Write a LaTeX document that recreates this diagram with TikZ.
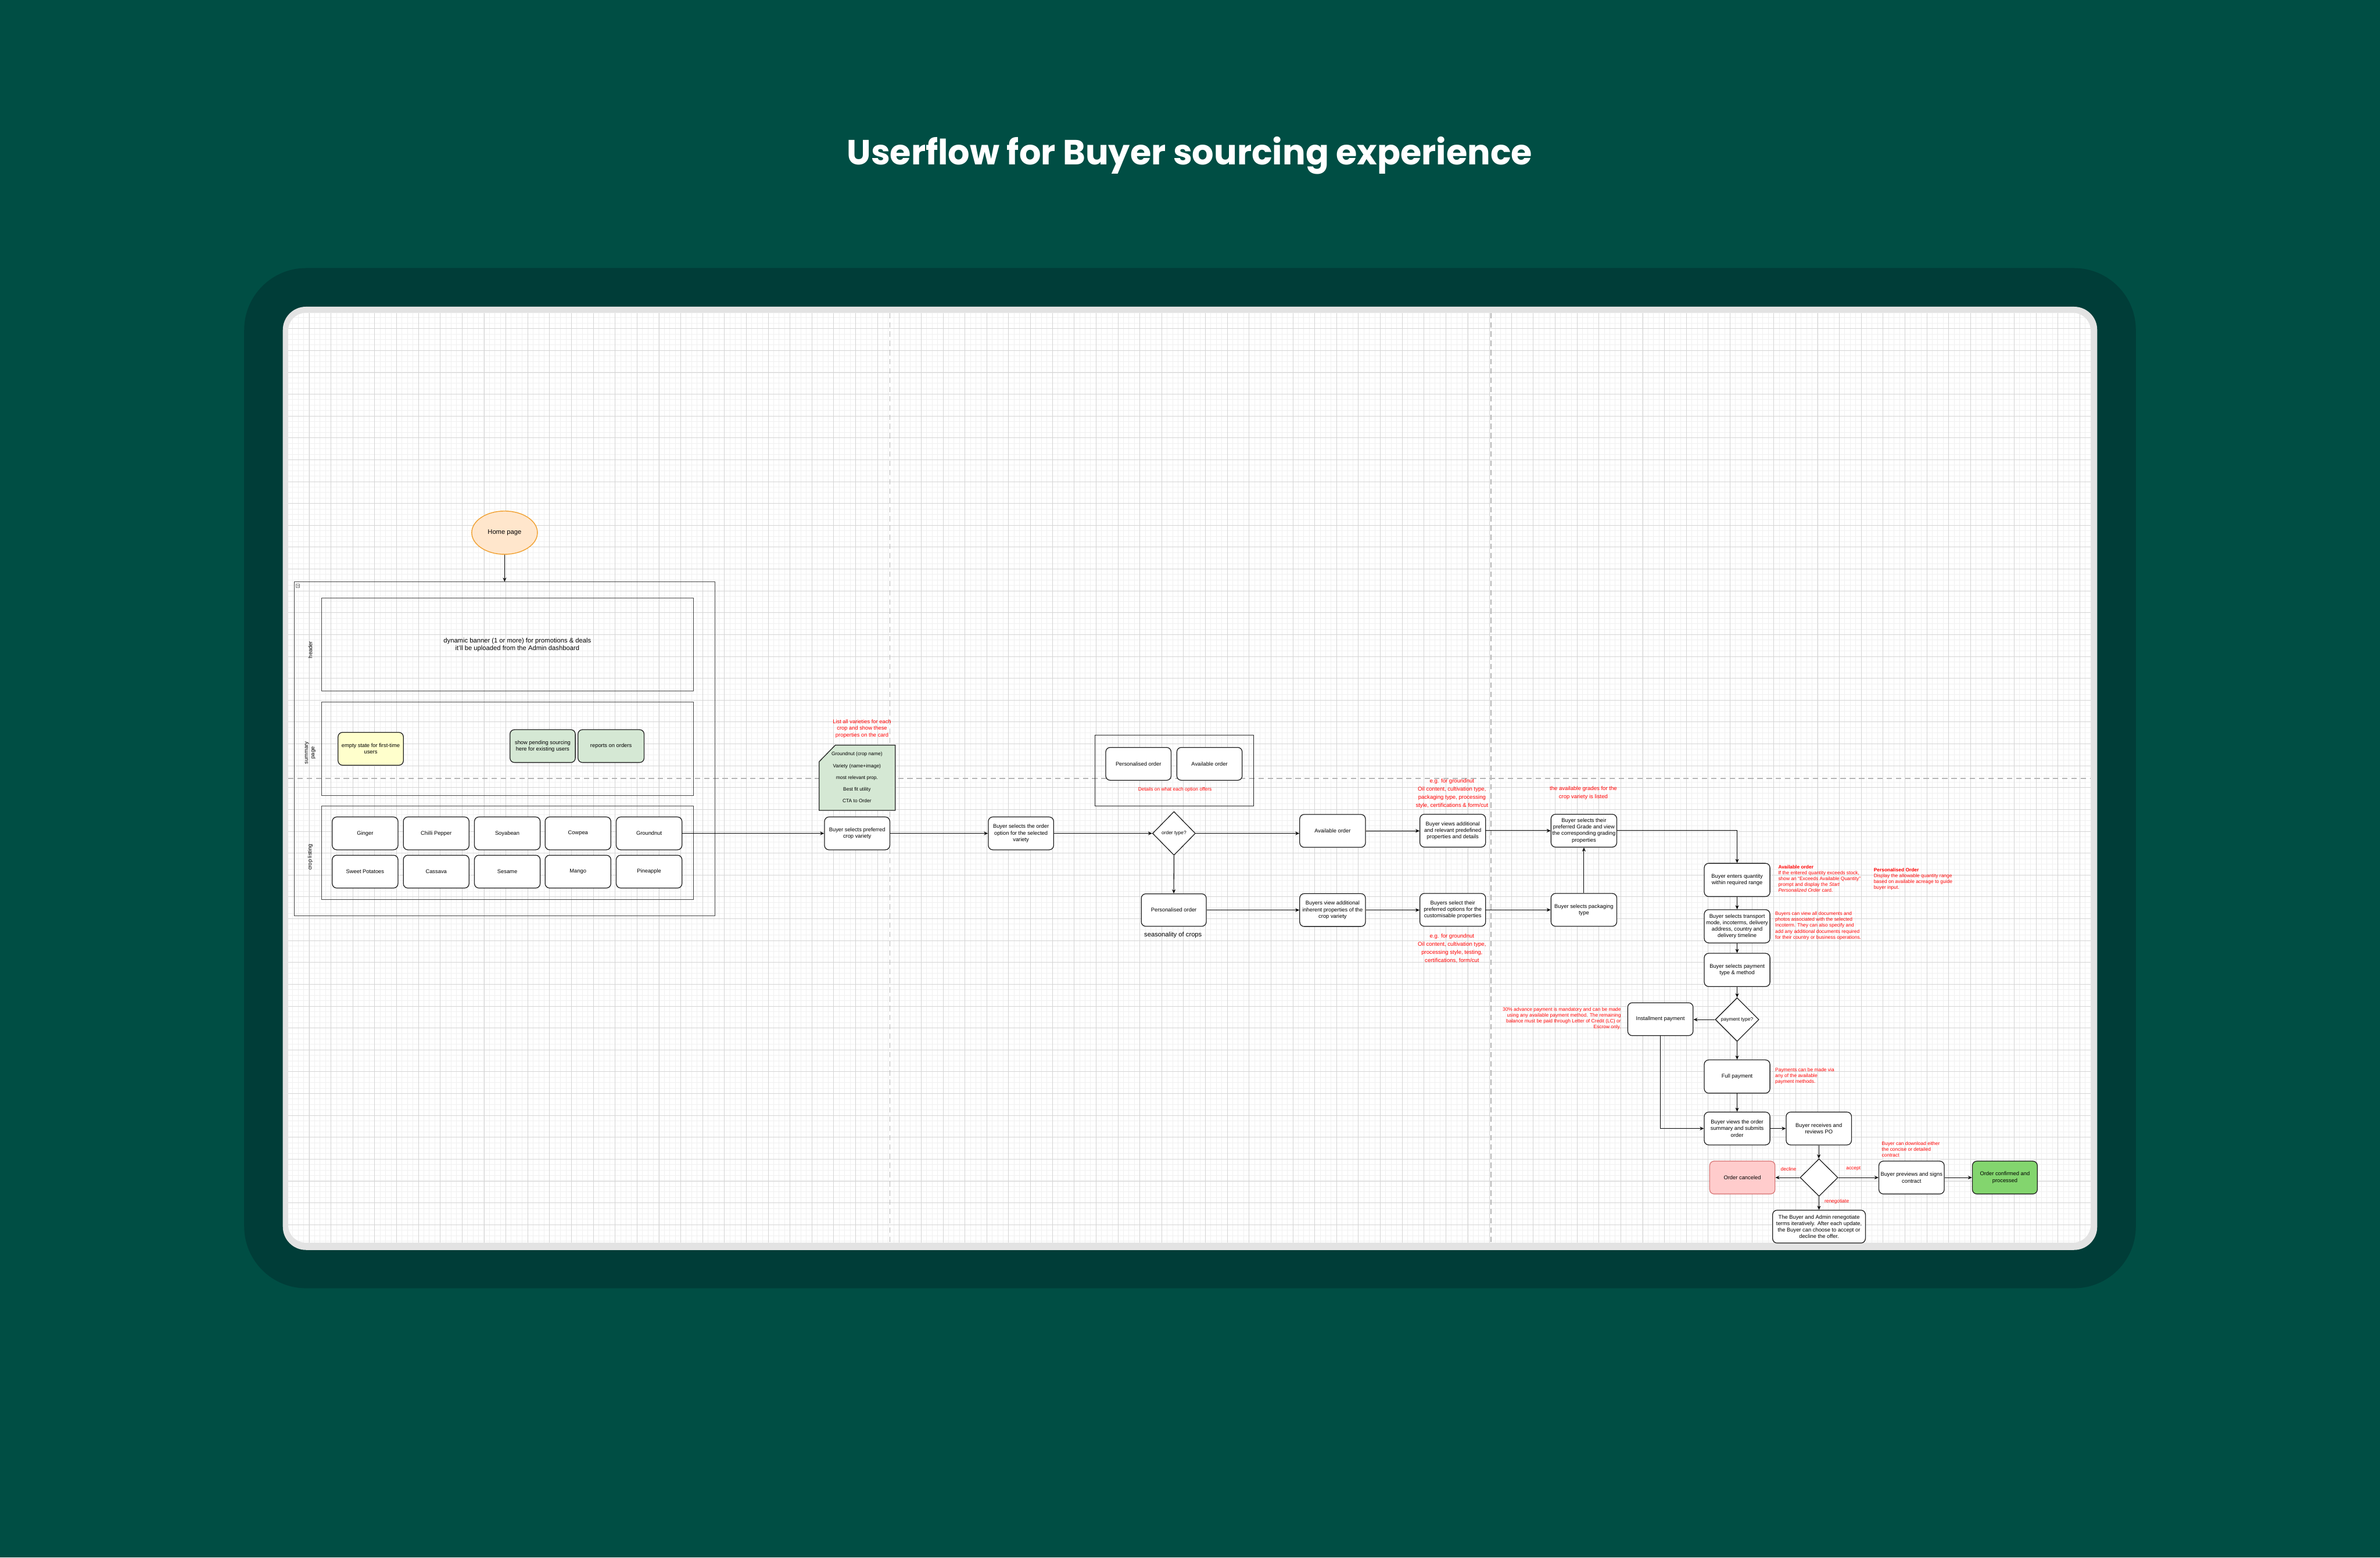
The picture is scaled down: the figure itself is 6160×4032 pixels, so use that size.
\documentclass[tikz,border=0pt]{standalone}
\usepackage{graphicx}
\usepackage{fontspec}
\setmainfont{Liberation Sans}
\newfontfamily\titlefont{Poppins}
\usetikzlibrary{shapes.geometric,arrows.meta,calc}

\definecolor{bgouter}{HTML}{004E44}
\definecolor{bgframe}{HTML}{003D38}
\definecolor{canvasedge}{HTML}{E3E3E3}
\definecolor{gridmajor}{HTML}{D4D4D4}
\definecolor{gridminor}{HTML}{F0F0F0}
\definecolor{dashgrey}{HTML}{B5B5B5}
\definecolor{peachfill}{HTML}{FFE6CC}
\definecolor{peachline}{HTML}{F0A030}
\definecolor{yellowfill}{HTML}{FFFFCC}
\definecolor{greenfill}{HTML}{D5E8D4}
\definecolor{pinkfill}{HTML}{FFCCCC}
\definecolor{pinkline}{HTML}{D87878}
\definecolor{brightgreen}{HTML}{83D56E}
\definecolor{annot}{HTML}{FF0000}
\definecolor{inkline}{HTML}{222222}

\newcommand{\fnode}{\fontsize{4.0}{4.8}\selectfont}
\newcommand{\fsm}{\fontsize{3.6}{4.3}\selectfont}
\newcommand{\fbig}{\fontsize{4.8}{5.6}\selectfont}
\newcommand{\fnote}{\fontsize{4.0}{5.0}\selectfont}
\newcommand{\fnotewide}{\fontsize{4.1}{6.0}\selectfont}
\newcommand{\fcard}{\fontsize{3.6}{8.6}\selectfont}

\begin{document}
\begin{tikzpicture}[x=0.01cm,y=-0.01cm,
  box/.style={draw=inkline, line width=0.55pt, fill=white, rounded corners=3.3pt,
    minimum width=1.7cm, minimum height=0.85cm, inner sep=0.5pt, align=center, font=\fnode},
  lanebox/.style={draw=inkline!85, line width=0.45pt, inner sep=0, minimum width=9.62cm, minimum height=2.41cm},
  decision/.style={diamond, draw=inkline, line width=0.55pt, fill=white, inner sep=0, aspect=1, align=center, font=\fsm},
  flow/.style={draw=black, line width=0.45pt, -{Stealth[length=3pt,width=2.6pt]}},
  note/.style={text=annot, inner sep=0, align=center, font=\fnote},
  notewide/.style={text=annot, inner sep=0, align=center, font=\fnotewide},
  notel/.style={text=annot, inner sep=0, align=left, font=\fsm},
  noter/.style={text=annot, inner sep=0, align=right, font=\fsm},
  lanelabel/.style={rotate=90, inner sep=0, align=center, font=\fnode},
  dashline/.style={draw=dashgrey, line width=0.55pt, dash pattern=on 4pt off 2.8pt}
]
% background and frame
\fill[bgouter] (0,0) rectangle (6160,4032);
\useasboundingbox (0,0) rectangle (6160,4032);
\fill[bgframe, rounded corners=1.6cm] (632,694) rectangle (5528,3335);
\fill[canvasedge, rounded corners=0.6cm] (732,794) rectangle (5428,3236);
\fill[white, rounded corners=0.46cm] (746,810) rectangle (5411,3217);

% title
\node[text=white, inner sep=0, anchor=base, font=\titlefont\bfseries\fontsize{25.7}{30}\selectfont] (title) at (3079,426) {\scalebox{0.98}[1]{Userflow for Buyer sourcing experience}};

% grid
\begin{scope}
  \clip[rounded corners=0.46cm] (746,810) rectangle (5411,3217);
  \foreach \i in {-4,...,327} \draw[gridminor, line width=0.4pt] ({800+\i*14.145},810) -- ({800+\i*14.145},3217);
  \foreach \j in {-3,...,168} \draw[gridminor, line width=0.4pt] (746,{850.7+\j*14.145}) -- (5411,{850.7+\j*14.145});
  \foreach \i in {-1,...,82} \draw[gridmajor, line width=0.35pt] ({800+\i*56.58},810) -- ({800+\i*56.58},3217);
  \foreach \j in {-1,...,42} \draw[gridmajor, line width=0.35pt] (746,{850.7+\j*56.58}) -- (5411,{850.7+\j*56.58});
  \draw[dashline] (746,2015) -- (5411,2015);
  \draw[dashline] (2303,810) -- (2303,3217);
  \draw[dashline] (3859,810) -- (3859,3217);
\end{scope}

% ---------------- home page and lanes ----------------
\node[ellipse, draw=peachline, line width=0.6pt, fill=peachfill, minimum width=1.7cm, minimum height=1.12cm, inner sep=0, font=\fbig] (home) at (1306,1379) {Home page};

\node[draw=inkline!85, line width=0.45pt, inner sep=0, minimum width=10.88cm, minimum height=8.63cm] (container) at (1306,1938.5) {};
\node[draw=gray, line width=0.3pt, fill=white, minimum size=0.09cm, inner sep=0] (collapse) at (771,1516) {};
\draw[gray!70!black, line width=0.3pt] ($(collapse.west)+(2,0)$) -- ($(collapse.east)+(-2,0)$);

\node[lanebox] (headerlane) at (1313,1669) {};
\node[lanebox] (summarylane) at (1313,1938.5) {};
\node[lanebox] (croplane) at (1313,2207.5) {};

\node[lanelabel] (lblheader) at (803,1682) {header};
\node[lanelabel] (lblsummary) at (803,1949) {summary\\page};
\node[lanelabel] (lblcrop) at (803,2219) {crop listing};

\node[inner sep=0, align=center, font=\fbig] (banner) at (1339,1669) {dynamic banner (1 or more) for promotions \& deals\\it'll be uploaded from the Admin dashboard};

\node[box, fill=yellowfill, minimum width=1.69cm] (empty) at (959.5,1938.5) {empty state for first-time\\users};
\node[box, fill=greenfill, minimum width=1.69cm] (pending) at (1404.5,1931.5) {show pending sourcing\\here for existing users};
\node[box, fill=greenfill, minimum width=1.71cm] (reports) at (1581.5,1931.5) {reports on orders};

\node[box] (c1) at (945,2157.5) {Ginger};
\node[box] (c2) at (1129,2157.5) {Chilli Pepper};
\node[box] (c3) at (1313,2157.5) {Soyabean};
\node[box] (c4) at (1496,2157.5) {Cowpea};
\node[box] (c5) at (1680,2157.5) {Groundnut};
\node[box] (c6) at (945,2256.5) {Sweet Potatoes};
\node[box] (c7) at (1129,2256.5) {Cassava};
\node[box] (c8) at (1313,2256.5) {Sesame};
\node[box] (c9) at (1496,2256.5) {Mango};
\node[box] (c10) at (1680,2256.5) {Pineapple};

% ---------------- variety card ----------------
\node[note, font=\fontsize{4.0}{5.0}\selectfont] (cardnote) at (2231,1886.5) {List all varieties for each\\crop and show these\\properties on the card};
\filldraw[fill=greenfill, draw=inkline, line width=0.55pt] (2162,1929) -- (2317,1929) -- (2317,2098) -- (2120,2098) -- (2120,1972) -- cycle;
\node[inner sep=0, align=center, font=\fcard] (cardtext) at (2218,2012.5) {Groundnut (crop name)\\Variety (name+image)\\most relevant prop.\\Best fit utility\\CTA to Order};

% ---------------- main flow ----------------
\node[box, minimum width=1.69cm] (variety) at (2218.5,2157.5) {Buyer selects preferred\\crop variety};
\node[box, minimum width=1.69cm] (option) at (2642.5,2157.5) {Buyer selects the order\\option for the selected\\variety};
\node[decision, minimum width=1.11cm, minimum height=1.13cm] (otype) at (3038.5,2157.5) {order type?};

\node[draw=inkline, line width=0.5pt, inner sep=0, minimum width=4.1cm, minimum height=1.84cm] (optframe) at (3039,1995) {};
\node[box, minimum width=1.69cm] (optP) at (2946.5,1977.5) {Personalised order};
\node[box, minimum width=1.69cm] (optA) at (3130.5,1977.5) {Available order};
\node[note, font=\fsm] (optnote) at (3041,2044) {Details on what each option offers};

\node[box, minimum width=1.68cm, minimum height=0.84cm] (persord) at (3038,2356) {Personalised order};
\node[inner sep=0, font=\fbig] (season) at (3036,2420) {seasonality of crops};

\node[box] (availord) at (3449,2151) {Available order};
\node[box] (inherent) at (3449,2356) {Buyers view additional\\inherent properties of the\\crop variety};

\node[notewide] (prednote) at (3758,2054) {e.g. for groundnut\\Oil content, cultivation type,\\packaging type, processing\\style, certifications \& form/cut};
\node[box] (predefined) at (3760,2150.5) {Buyer views additional\\and relevant predefined\\properties and details};
\node[box] (custom) at (3760,2355.5) {Buyers select their\\preferred options for the\\customisable properties};
\node[notewide] (custnote) at (3758,2455) {e.g. for groundnut\\Oil content, cultivation type,\\processing style, testing,\\certifications, form/cut};

\node[notewide] (gradenote) at (4098,2053.5) {the available grades for the\\crop variety is listed};
\node[box] (grade) at (4099.5,2150.5) {Buyer selects their\\preferred Grade and view\\the corresponding grading\\properties};
\node[box] (packaging) at (4099.5,2355.5) {Buyer selects packaging\\type};

\node[box, minimum height=0.86cm] (quantity) at (4496,2278) {Buyer enters quantity\\within required range};
\node[box, minimum height=0.86cm] (transport) at (4496,2398) {Buyer selects transport\\mode, incoterms, delivery\\address, country and\\delivery timeline};
\node[box, minimum height=0.86cm] (paymethod) at (4496,2511) {Buyer selects payment\\type \& method};
\node[decision, minimum width=1.13cm, minimum height=1.13cm] (ptype) at (4496,2639.5) {payment type?};
\node[box, minimum width=1.69cm] (install) at (4297.5,2638.5) {Installment payment};
\node[box, minimum height=0.86cm] (full) at (4496,2787) {Full payment};
\node[box] (summary) at (4496,2921.5) {Buyer views the order\\summary and submits\\order};
\node[box, minimum width=1.69cm] (po) at (4707.5,2921.5) {Buyer receives and\\reviews PO};
\node[decision, minimum width=0.98cm, minimum height=0.97cm] (decide) at (4708,3048.5) {};
\node[box, minimum width=1.69cm, fill=pinkfill, draw=pinkline] (canceled) at (4509.5,3048.5) {Order canceled};
\node[box, minimum width=1.69cm] (previews) at (4947.5,3048.5) {Buyer previews and signs\\contract};
\node[box, minimum width=1.68cm, fill=brightgreen] (confirmed) at (5189,3048.5) {Order confirmed and\\processed};
\node[box, minimum width=2.4cm] (reneg) at (4708,3175.5) {The Buyer and Admin renegotiate\\terms iteratively. After each update,\\the Buyer can choose to accept or\\decline the offer.};

% ---------------- annotations on the right ----------------
\node[notel, anchor=north west] (availnote) at (4602,2239) {\textbf{Available order}\\If the entered quantity exceeds stock,\\show an ``Exceeds Available Quantity''\\prompt and display the \textit{Start}\\\textit{Personalized Order} card.};
\node[notel, anchor=north west] (persnote) at (4849,2247) {\textbf{Personalised Order}\\Display the allowable quantity range\\based on available acreage to guide\\buyer input.};
\node[notel, anchor=north west] (transnote) at (4594,2360) {Buyers can view all documents and\\photos associated with the selected\\Incoterm. They can also specify and\\add any additional documents required\\for their country or business operations.};
\node[noter, anchor=north east] (instnote) at (4196,2608) {30\% advance payment is mandatory and can be made\\using any available payment method. The remaining\\balance must be paid through Letter of Credit (LC) or\\Escrow only.};
\node[notel, anchor=north west] (fullnote) at (4594,2764) {Payments can be made via\\any of the available\\payment methods.};
\node[notel, anchor=north west] (contractnote) at (4870,2955) {Buyer can download either\\the concise or detailed\\contract};

\node[notel] (lbldecline) at (4629,3026) {decline};
\node[notel] (lblaccept) at (4797,3026) {accept};
\node[notel] (lblreneg) at (4754,3111) {renegotiate};

% ---------------- connectors ----------------
\draw[flow] (home.south) -- (container.north);
\draw[flow] (c5.east) -- (variety.west);
\draw[flow] (variety.east) -- (option.west);
\draw[flow] (option.east) -- (otype.west);
\draw[flow] (otype.east) -- (otype.east -| availord.west);
\draw[flow] (otype.south) -- (persord.north);
\draw[flow] (persord.east) -- (persord.east -| inherent.west);
\draw[flow] (availord.east) -- (availord.east -| predefined.west);
\draw[flow] (inherent.east) -- (inherent.east -| custom.west);
\draw[flow] (predefined.east) -- (grade.west);
\draw[flow] (custom.east) -- (packaging.west);
\draw[flow] (packaging.north) -- (grade.south);
\draw[flow] (grade.east) -| (quantity.north);
\draw[flow] (quantity.south) -- (transport.north);
\draw[flow] (transport.south) -- (paymethod.north);
\draw[flow] (paymethod.south) -- (ptype.north);
\draw[flow] (ptype.west) -- (ptype.west -| install.east);
\draw[flow] (ptype.south) -- (full.north);
\draw[flow] (full.south) -- (summary.north);
\draw[flow] (install.south) |- (summary.west);
\draw[flow] (summary.east) -- (po.west);
\draw[flow] (po.south) -- (po.south |- decide.north);
\draw[flow] (decide.west) -- (canceled.east);
\draw[flow] (decide.east) -- (previews.west);
\draw[flow] (decide.south) -- (reneg.north);
\draw[flow] (previews.east) -- (confirmed.west);
\end{tikzpicture}
\end{document}
